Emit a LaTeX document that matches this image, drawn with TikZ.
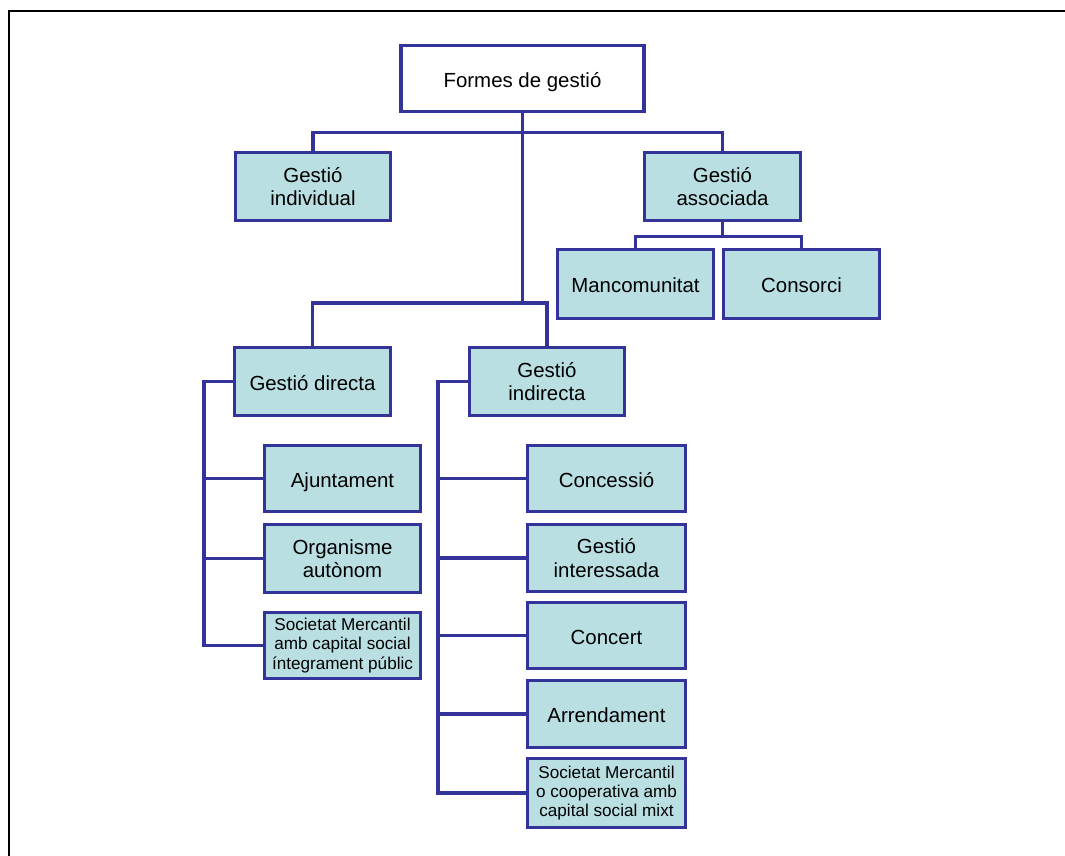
\documentclass[tikz,border=0pt]{standalone}
\usepackage{fontspec}
\setmainfont{Liberation Sans}
\definecolor{bblue}{HTML}{333399}
\definecolor{bfill}{HTML}{B9DFE2}
\begin{document}
\begin{tikzpicture}[x=1bp,y=-1bp,
  bx/.style={draw=bblue, line width=3.6bp, fill=bfill, inner sep=0pt, align=center,
    font=\fontsize{20.5}{23.3}\selectfont, text=black},
  one/.style={text height=18bp, text depth=0.2bp},
  bxs/.style={bx, font=\fontsize{17.2}{19.5}\selectfont},
  conn/.style={draw=bblue, line width=3.6bp}]
\useasboundingbox (0,0) rectangle (1065,856);
\draw[line width=1.7bp] (9,870) -- (9,11) -- (1080,11);

\node[bx, one, fill=white, minimum width=243bp, minimum height=66bp] (top) at (522.5,78.5) {Formes de gestió};
\node[bx, minimum width=155bp, minimum height=68bp] (indiv) at (313,186.5) {Gestió\\individual};
\node[bx, minimum width=156bp, minimum height=68bp] (assoc) at (722.5,186.5) {Gestió\\associada};
\node[bx, one, minimum width=156bp, minimum height=69bp] (manc) at (635.5,284) {Mancomunitat};
\node[bx, one, minimum width=156bp, minimum height=69bp] (cons) at (801.5,284) {Consorci};
\node[bx, one, minimum width=156bp, minimum height=68bp] (directa) at (312.5,381.5) {Gestió directa};
\node[bx, minimum width=155bp, minimum height=68bp] (indirecta) at (547,381.5) {Gestió\\indirecta};

\node[bx, one, minimum width=156bp, minimum height=66bp] (ajunt) at (342.5,478.5) {Ajuntament};
\node[bx, minimum width=156bp, minimum height=68bp] (organ) at (342.5,558.5) {Organisme\\autònom};
\node[bxs, minimum width=156bp, minimum height=66bp] (socL) at (342.5,645.5) {Societat Mercantil\\amb capital social\\íntegrament públic};

\node[bx, one, minimum width=158bp, minimum height=66bp] (conc) at (606.5,478.5) {Concessió};
\node[bx, minimum width=158bp, minimum height=67bp] (inter) at (606.5,558) {Gestió\\interessada};
\node[bx, one, minimum width=158bp, minimum height=66bp] (concert) at (606.5,635.5) {Concert};
\node[bx, one, minimum width=158bp, minimum height=67bp] (arrend) at (606.5,714) {Arrendament};
\node[bxs, minimum width=158bp, minimum height=69bp] (socR) at (606.5,793) {Societat Mercantil\\o cooperativa amb\\capital social mixt};

\coordinate (j1) at (522.5,132.5);
\coordinate (j2) at (522.5,303);
\coordinate (j3) at (722.5,236.5);
\coordinate (railL) at (204,381.5);
\coordinate (railR) at (438,381.5);

\draw[conn] (top.south) -- (j2);
\draw[conn] (indiv.north) |- (j1) -| (assoc.north);
\draw[conn] (directa.north) |- (j2) -| (indirecta.north);
\draw[conn] (manc.north) |- (j3) -- (assoc.south);
\draw[conn] (j3) -| (cons.north);

\draw[conn] (directa.west) -- (railL) -- (railL |- socL.west) -- (socL.west);
\draw[conn] (railL |- ajunt.west) -- (ajunt.west);
\draw[conn] (railL |- organ.west) -- (organ.west);

\draw[conn] (indirecta.west) -- (railR) -- (railR |- socR.west) -- (socR.west);
\draw[conn] (railR |- conc.west) -- (conc.west);
\draw[conn] (railR |- inter.west) -- (inter.west);
\draw[conn] (railR |- concert.west) -- (concert.west);
\draw[conn] (railR |- arrend.west) -- (arrend.west);
\end{tikzpicture}
\end{document}
